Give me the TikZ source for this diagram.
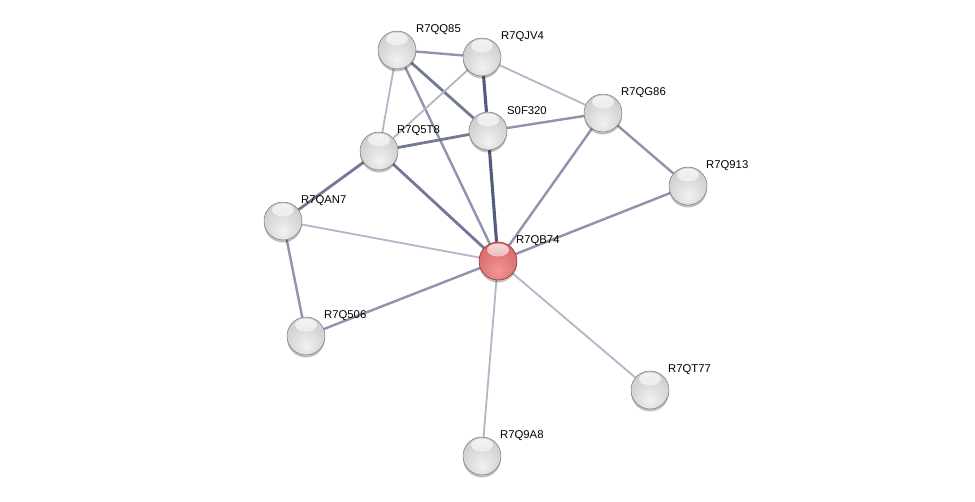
\documentclass[tikz,border=0pt]{standalone}
\usepackage{fontspec}
\setmainfont{Liberation Sans}
\usetikzlibrary{shadows,backgrounds,fadings}
\definecolor{gA}{HTML}{F2F2F2}
\definecolor{gB}{HTML}{D2D2D2}
\definecolor{gC}{HTML}{B2B2B2}
\definecolor{gD}{HTML}{858585}
\definecolor{gRim}{HTML}{787878}
\definecolor{rA}{HTML}{F49696}
\definecolor{rB}{HTML}{DC7070}
\definecolor{rC}{HTML}{C04A4A}
\definecolor{rD}{HTML}{982C2C}
\definecolor{rRim}{HTML}{8A2626}
\pgfdeclareradialshading{greysphere}{\pgfpoint{0bp}{-14bp}}{color(0bp)=(gA); color(26bp)=(gB); color(52bp)=(gC); color(64bp)=(gD)}
\pgfdeclareradialshading{redsphere}{\pgfpoint{0bp}{-14bp}}{color(0bp)=(rA); color(26bp)=(rB); color(52bp)=(rC); color(64bp)=(rD)}
\definecolor{eThick}{HTML}{535C7C}
\definecolor{eMidDark}{HTML}{717995}
\definecolor{eMid}{HTML}{8E94AD}
\definecolor{eLight}{HTML}{B2B6C9}
\tikzset{
  ball/.style={circle, minimum size=38pt, inner sep=0pt, shading=greysphere,
    draw=gRim, line width=0.5pt,
    drop shadow={shadow xshift=0pt, shadow yshift=-2.5pt, opacity=0.25, fill=black},
    path picture={\fill[white, opacity=0.8, path fading=south] ([yshift=-8pt]path picture bounding box.north) ellipse (11pt and 6.5pt);}},
  redball/.style={ball, shading=redsphere, draw=rRim},
  lbl/.style={anchor=west, inner sep=0pt, font=\fontsize{11.3}{13}\selectfont, text=black},
  thick edge/.style={draw=eThick, line width=3.1pt},
  middark edge/.style={draw=eMidDark, line width=2.8pt},
  mid edge/.style={draw=eMid, line width=2.4pt},
  light edge/.style={draw=eLight, line width=1.8pt},
}
\begin{document}
\begin{tikzpicture}[x=1pt, y=-1pt]
\useasboundingbox (0,0) rectangle (975,501);
\node[ball] (QQ85) at (397,50) {};
\node[ball] (QJV4) at (482,57) {};
\node[ball] (S0F) at (488,131) {};
\node[ball] (QG86) at (603,113) {};
\node[ball] (Q5T8) at (379,151) {};
\node[ball] (Q913) at (688,186) {};
\node[ball] (QAN7) at (283,221) {};
\node[redball] (QB74) at (498,261) {};
\node[ball] (Q506) at (306,336) {};
\node[ball] (QT77) at (650,390) {};
\node[ball] (Q9A8) at (482,456) {};
\node[lbl] (lQQ85) at (416,29.5) {R7QQ85};
\node[lbl] (lQJV4) at (501,36.5) {R7QJV4};
\node[lbl] (lS0F) at (507,110.5) {S0F320};
\node[lbl] (lQG86) at (621,92.5) {R7QG86};
\node[lbl] (lQ5T8) at (397,130.5) {R7Q5T8};
\node[lbl] (lQ913) at (706,165.5) {R7Q913};
\node[lbl] (lQAN7) at (301,200.5) {R7QAN7};
\node[lbl] (lQB74) at (516,240.5) {R7QB74};
\node[lbl] (lQ506) at (324,315.5) {R7Q506};
\node[lbl] (lQT77) at (668,369.5) {R7QT77};
\node[lbl] (lQ9A8) at (500,435.5) {R7Q9A8};
\begin{scope}[on background layer]
\fill[white] (0,0) rectangle (975,501);
\draw[mid edge] (QQ85) -- (QJV4);
\draw[middark edge] (QQ85) -- (S0F);
\draw[light edge] (QQ85) -- (Q5T8);
\draw[mid edge] (QQ85) -- (QB74);
\draw[light edge] (QJV4) -- (Q5T8);
\draw[thick edge] (QJV4) -- (S0F);
\draw[light edge] (QJV4) -- (QG86);
\draw[thick edge] (S0F) -- (QB74);
\draw[middark edge] (S0F) -- (Q5T8);
\draw[mid edge] (S0F) -- (QG86);
\draw[middark edge] (Q5T8) -- (QAN7);
\draw[middark edge] (Q5T8) -- (QB74);
\draw[mid edge] (QG86) -- (QB74);
\draw[mid edge] (QG86) -- (Q913);
\draw[mid edge] (Q913) -- (QB74);
\draw[light edge] (QAN7) -- (QB74);
\draw[mid edge] (QAN7) -- (Q506);
\draw[mid edge] (Q506) -- (QB74);
\draw[light edge] (QB74) -- (QT77);
\draw[light edge] (QB74) -- (Q9A8);
\end{scope}
\end{tikzpicture}
\end{document}
